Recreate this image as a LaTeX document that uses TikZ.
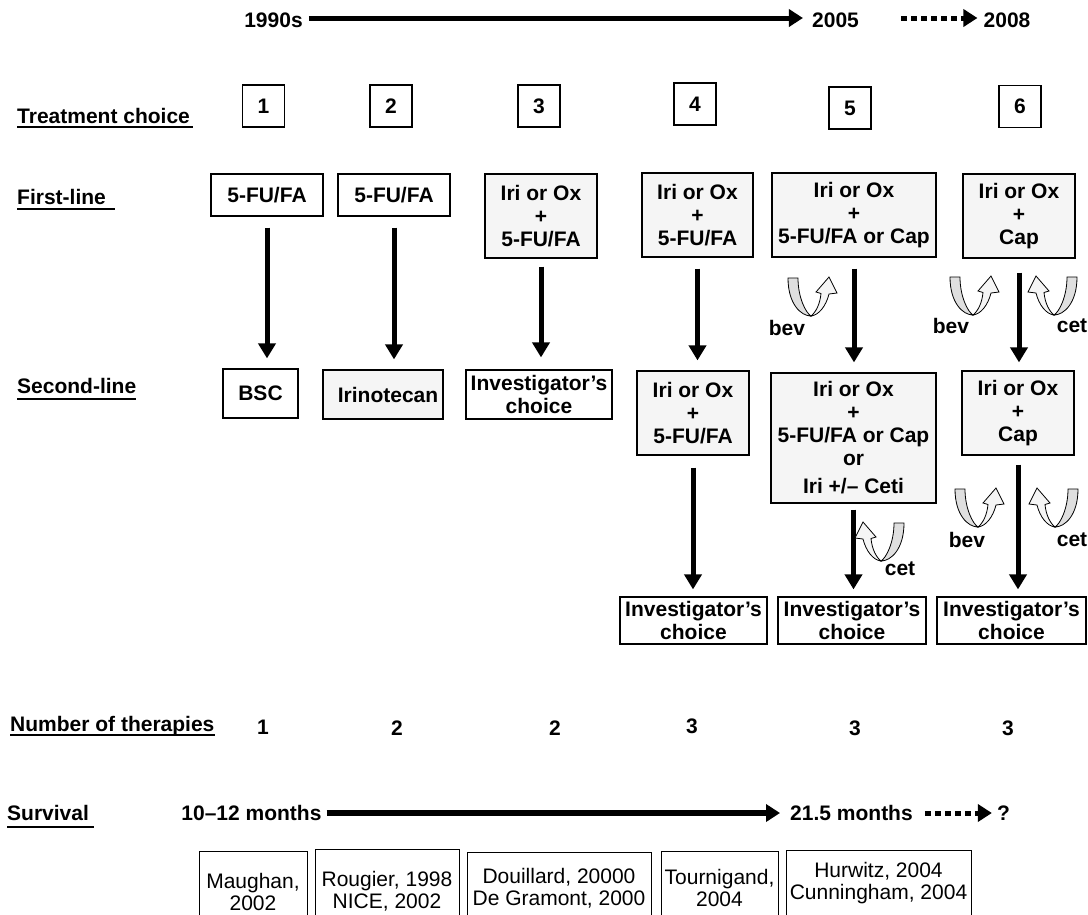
\documentclass[tikz,border=0pt]{standalone}
\usepackage{fontspec}
\setmainfont{Liberation Sans}
\usetikzlibrary{arrows.meta,shapes}
\tikzstyle{box}=[draw,line width=1.2pt,inner sep=0pt,align=center,font=\bfseries\fontsize{21}{23}\selectfont]
\tikzstyle{greybox}=[box,fill=gray!8]
\tikzstyle{numbox}=[box,minimum width=42pt,minimum height=42pt]
\tikzstyle{rowlabel}=[anchor=base west,inner sep=0pt,font=\bfseries\fontsize{21}{23}\selectfont]
\tikzstyle{tag}=[inner sep=0pt,font=\bfseries\fontsize{21}{23}\selectfont]
\tikzstyle{cite}=[draw,line width=1pt,anchor=north,inner sep=0pt,align=center,font=\fontsize{21}{22}\selectfont]
\tikzstyle{flow}=[-{Triangle[length=15pt,width=17pt]},line width=5pt,shorten <=11pt,shorten >=10pt]
\tikzstyle{timeline}=[-{Triangle[length=14pt,width=17pt]},line width=5pt]
\tikzstyle{dashline}=[timeline,dash pattern=on 6pt off 4pt]
\tikzstyle{uline}=[line width=1.5pt]

% U-shaped ribbon arrow: x, y of the bottom point, 1 or -1 (mirror)
\newcommand{\bendarrow}[3]{%
  \begin{scope}[shift={(#1,#2)},xscale=#3,yscale=-1,line width=0.8pt]
    \filldraw[fill=gray!25] (-23,38) .. controls (-23,12) and (-10,0) .. (0,0)
      .. controls (-5,3) and (-13,18) .. (-13,38) -- cycle;
    \filldraw[fill=gray!8] (0,0) .. controls (8,1) and (15,10) .. (18,22) -- (26,23)
      -- (18,39) -- (5,24) -- (10,22.5) .. controls (9,12) and (5,4) .. (0,0) -- cycle;
  \end{scope}}

\begin{document}
\begin{tikzpicture}[x=1pt,y=-1pt]
\useasboundingbox (0,0) rectangle (1088,914);
\clip (0,0) rectangle (1088,914);

% years
\node[tag] (y1990) at (273.5,20) {1990s};
\node[tag] (y2005) at (835.5,20) {2005};
\node[tag] (y2008) at (1007,20) {2008};
\draw[timeline,shorten <=6pt,shorten >=9pt] ([yshift=2pt]y1990.east) -- ([yshift=2pt]y2005.west);
\draw[dashline,shorten <=42pt,shorten >=6pt] ([yshift=2pt]y2005.east) -- ([yshift=2pt]y2008.west);

% row labels
\node[rowlabel] (treat) at (17,123) {Treatment choice};
\node[rowlabel] (first) at (17,204) {First-line};
\node[rowlabel] (second) at (17,393) {Second-line};
\node[rowlabel] (number) at (10,731) {Number of therapies};
\node[rowlabel] (surv) at (7,820) {Survival};
\draw[uline] ([yshift=-4pt]treat.base west) -- ([yshift=-4pt,xshift=3pt]treat.base east);
\draw[uline] ([yshift=-5pt]first.base west) -- ([yshift=-5pt,xshift=9pt]first.base east);
\draw[uline] ([yshift=-6pt]second.base west) -- ([yshift=-6pt]second.base east);
\draw[uline] ([yshift=-4pt]number.base west) -- ([yshift=-4pt]number.base east);
\draw[uline] ([yshift=-7pt]surv.base west) -- ([yshift=-7pt,xshift=5pt]surv.base east);

% treatment choice
\node[numbox] (n1) at (263.5,106) {1};
\node[numbox] (n2) at (391,106) {2};
\node[numbox] (n3) at (539,106) {3};
\node[numbox,line width=2pt] (n4) at (695,104) {4};
\node[numbox] (n5) at (850,108) {5};
\node[numbox] (n6) at (1020,106.5) {6};

% first-line
\node[box,minimum width=112pt,minimum height=42pt] (f1) at (267,195) {5-FU/FA};
\node[box,minimum width=112pt,minimum height=42pt] (f2) at (394,195) {5-FU/FA};
\node[greybox,minimum width=112pt,minimum height=84pt] (f3) at (541,216) {Iri or Ox\\+\\5-FU/FA};
\node[greybox,minimum width=111pt,minimum height=84pt] (f4) at (697.5,215) {Iri or Ox\\+\\5-FU/FA};
\node[greybox,minimum width=164pt,minimum height=84pt] (f5) at (854,215) {Iri or Ox\\+\\5-FU/FA or Cap};
\node[greybox,minimum width=112pt,minimum height=84pt] (f6) at (1019,216) {Iri or Ox\\+\\Cap};

% second-line
\node[box,minimum width=75pt,minimum height=49pt] (s1) at (260.5,393.5) {BSC};
\node[greybox,minimum width=120pt,minimum height=49pt] (s2) at (383,394.5) {\hspace{10pt}Irinotecan};
\node[box,minimum width=146pt,minimum height=49pt] (s3) at (539,394.5) {Investigator’s\\choice};
\node[greybox,minimum width=112pt,minimum height=84pt] (s4) at (693,413) {Iri or Ox\\+\\5-FU/FA};
\node[greybox,minimum width=165pt,minimum height=130pt] (s5) at (853.5,438) {Iri or Ox\\+\\5-FU/FA or Cap\\or\\[5pt]Iri +/– Ceti};
\node[greybox,minimum width=112pt,minimum height=84pt] (s6) at (1018,413) {Iri or Ox\\+\\Cap};

% third-line
\node[box,minimum width=147pt,minimum height=47pt] (t4) at (693.5,620.5) {Investigator’s\\choice};
\node[box,minimum width=148pt,minimum height=47pt] (t5) at (852,620.5) {Investigator’s\\choice};
\node[box,minimum width=149pt,minimum height=47pt] (t6) at (1011.5,620.5) {Investigator’s\\choice};

\draw[flow] (f1.south) -- (f1.south |- s1.north);
\draw[flow] (f2.south) -- (f2.south |- s2.north);
\draw[flow,shorten <=8pt,shorten >=12pt] (f3.south) -- (f3.south |- s3.north);
\draw[flow] (f4.south) -- (f4.south |- s4.north);
\draw[flow] (f5.south) -- (f5.south |- s5.north);
\draw[flow,shorten <=14pt,shorten >=8pt] (f6.south) -- (f6.south |- s6.north);
\draw[flow,shorten <=12pt,shorten >=7pt] (s4.south) -- (s4.south |- t4.north);
\draw[flow,shorten <=6pt,shorten >=7pt] (s5.south) -- (s5.south |- t5.north);
\draw[flow,shorten <=9pt,shorten >=7pt] (s6.south) -- (s6.south |- t6.north);

% bev / cet
\bendarrow{811}{316}{1}
\bendarrow{973}{315}{1}
\bendarrow{1054}{315}{-1}
\bendarrow{881}{561}{-1}
\bendarrow{978}{527}{1}
\bendarrow{1055}{527}{-1}
\node[tag] (bev5) at (787,328) {bev};
\node[tag] (bev6) at (951,326) {bev};
\node[tag] (cet6) at (1072,326) {cet};
\node[tag] (cet5b) at (900,569) {cet};
\node[tag] (bev6b) at (967,540) {bev};
\node[tag] (cet6b) at (1072,540) {cet};

% number of therapies
\node[tag] (cnt1) at (263,727) {1};
\node[tag] (cnt2) at (397,728) {2};
\node[tag] (cnt3) at (555,728) {2};
\node[tag] (cnt4) at (692,726) {3};
\node[tag] (cnt5) at (855,728) {3};
\node[tag] (cnt6) at (1008,728) {3};

% survival
\node[tag] (sv1) at (251.5,813) {10–12 months};
\node[tag] (sv2) at (851.5,813) {21.5 months};
\node[tag] (sv3) at (1003.5,813) {?};
\draw[timeline,line width=6pt,shorten <=5pt,shorten >=10pt] (sv1.east) -- (sv2.west);
\draw[dashline,shorten <=12pt,shorten >=5pt] (sv2.east) -- (sv3.west);

% references
\node[cite,minimum width=108pt,minimum height=80pt] (c1) at (253,851) {Maughan,\\2002};
\node[cite,minimum width=144pt,minimum height=84pt] (c2) at (387,849) {Rougier, 1998\\NICE, 2002};
\node[cite,minimum width=184pt,minimum height=72pt] (c3) at (559,852) {Douillard, 20000\\De Gramont, 2000};
\node[cite,minimum width=117pt,minimum height=72pt] (c4) at (719.5,851) {Tournigand,\\2004};
\node[cite,minimum width=185pt,minimum height=66pt] (c5) at (878.5,850) {Hurwitz, 2004\\Cunningham, 2004};
\end{tikzpicture}
\end{document}
